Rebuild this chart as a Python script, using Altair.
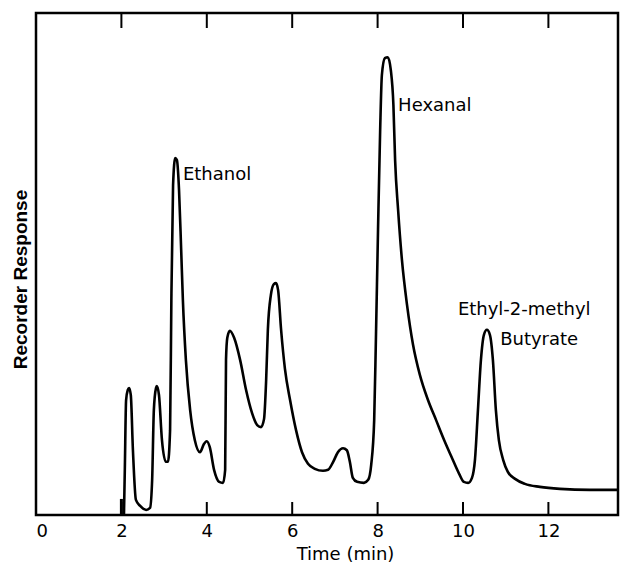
import altair as alt
import pandas as pd

# Chromatogram trace (time in min, response in % of frame height)
time_min = [2.06, 2.08, 2.11, 2.15, 2.18, 2.22, 2.27, 2.34, 2.44, 2.58, 2.67, 2.72, 2.76, 2.81, 2.83,
            2.88, 2.95, 3.04, 3.09, 3.14, 3.17, 3.21, 3.26, 3.30, 3.35, 3.40, 3.44, 3.51, 3.61, 3.72,
            3.84, 3.93, 4.00, 4.07, 4.17, 4.29, 4.38, 4.43, 4.45, 4.48, 4.54, 4.64, 4.78, 4.92, 5.06,
            5.18, 5.27, 5.34, 5.39, 5.43, 5.50, 5.57, 5.62, 5.67, 5.74, 5.83, 5.95, 6.09, 6.23, 6.37,
            6.53, 6.72, 6.84, 6.96, 7.07, 7.19, 7.28, 7.35, 7.42, 7.52, 7.68, 7.78, 7.85, 7.92, 7.96,
            8.01, 8.06, 8.10, 8.17, 8.24, 8.31, 8.37, 8.41, 8.48, 8.57, 8.69, 8.83, 8.99, 9.18, 9.37,
            9.56, 9.74, 9.91, 10.02, 10.12, 10.21, 10.28, 10.35, 10.42, 10.49, 10.56, 10.63, 10.70,
            10.77, 10.84, 10.94, 11.05, 11.22, 11.45, 11.80, 12.27, 12.97, 13.63]
response = [0.0, 9.0, 22.9, 24.9, 25.3, 23.9, 12.9, 3.0, 1.8, 1.0, 1.4, 7.0, 20.9, 25.3, 25.7,
            23.9, 14.9, 10.6, 10.6, 16.9, 42.8, 65.7, 71.1, 70.7, 64.7, 52.8, 42.8, 30.9, 20.9, 14.9,
            12.5, 14.1, 14.7, 13.5, 9.0, 6.6, 6.4, 9.0, 30.9, 35.3, 36.7, 35.3, 30.9, 24.9, 20.3,
            17.9, 17.5, 19.1, 26.9, 36.9, 43.8, 46.0, 46.2, 44.8, 36.9, 29.1, 22.9, 16.9, 12.5, 10.2,
            9.2, 8.8, 9.0, 10.6, 12.5, 13.3, 12.9, 10.6, 7.4, 6.6, 6.4, 7.0, 10.0, 18.9, 34.9,
            56.8, 76.7, 87.6, 91.0, 91.2, 88.6, 81.7, 70.7, 60.8, 50.8, 41.8, 33.9, 27.9, 22.9, 18.9,
            14.9, 11.4, 8.2, 6.6, 6.4, 7.4, 11.0, 20.9, 30.9, 35.9, 36.9, 35.9, 30.9,
            20.9, 14.9, 11.0, 8.6, 7.2, 6.2, 5.6, 5.2, 5.0, 5.0]

tick_values = [2, 4, 6, 8, 10, 12]
label_values = [0, 2, 4, 6, 8, 10, 12]
injection_time = [2.0]
injection_height = [3.2]

peak_names = ["Ethanol", "Hexanal", "Ethyl-2-methyl", "Butyrate"]
peak_label_t = [3.44, 8.48, 9.88, 10.87]
peak_label_y = [67.7, 81.5, 40.8, 34.9]

W, H = 582, 502
XMAX = 13.63

trace = pd.DataFrame({"t": time_min, "r": response})
ticks = pd.DataFrame({"t": tick_values})
inj = pd.DataFrame({"t": injection_time, "r0": [0.0], "r1": injection_height})
labels = pd.DataFrame({"t": peak_label_t, "r": peak_label_y, "name": peak_names})

xscale = alt.Scale(domain=[0, XMAX], nice=False, zero=False)
yscale = alt.Scale(domain=[0, 100], nice=False)

line = alt.Chart(trace).mark_line(
    color="black", strokeWidth=2.6, interpolate="monotone"
).encode(
    x=alt.X("t:Q", scale=xscale,
            axis=alt.Axis(values=label_values, ticks=False, domain=False, grid=False,
                          title="Time (min)", labelFont="DejaVu Sans", labelFontSize=18,
                          labelColor="black", labelPadding=7, titleFont="DejaVu Sans",
                          titleFontSize=18, titleFontWeight="normal", titleColor="black",
                          titlePadding=5, titleX=309)),
    y=alt.Y("r:Q", scale=yscale,
            axis=alt.Axis(labels=False, ticks=False, domain=False, grid=False,
                          title="Recorder Response", titleFont="Liberation Sans",
                          titleFontSize=19, titleFontWeight="bold", titleColor="black",
                          titlePadding=6, titleY=266)),
)

inj_mark = alt.Chart(inj).mark_rule(color="black", strokeWidth=3).encode(
    x=alt.X("t:Q", scale=xscale), y=alt.Y("r0:Q", scale=yscale), y2="r1:Q"
)

bottom_ticks = alt.Chart(ticks).mark_rule(color="black", strokeWidth=2).encode(
    x=alt.X("t:Q", scale=xscale), y=alt.value(H), y2=alt.value(H - 13)
)
top_ticks = alt.Chart(ticks).mark_rule(color="black", strokeWidth=2).encode(
    x=alt.X("t:Q", scale=xscale), y=alt.value(0), y2=alt.value(15)
)

text = alt.Chart(labels).mark_text(
    align="left", baseline="middle", font="DejaVu Sans", fontSize=18, color="black"
).encode(
    x=alt.X("t:Q", scale=xscale), y=alt.Y("r:Q", scale=yscale), text="name:N"
)

chart = alt.layer(line, inj_mark, bottom_ticks, top_ticks, text).properties(
    width=W, height=H,
    autosize=alt.AutoSizeParams(type="none"),
    padding={"left": 36, "top": 13, "right": 3, "bottom": 53},
    background="white",
).configure_view(stroke="black", strokeWidth=2.5)

chart.save("out.html", embed_options={"renderer": "svg", "actions": False})
